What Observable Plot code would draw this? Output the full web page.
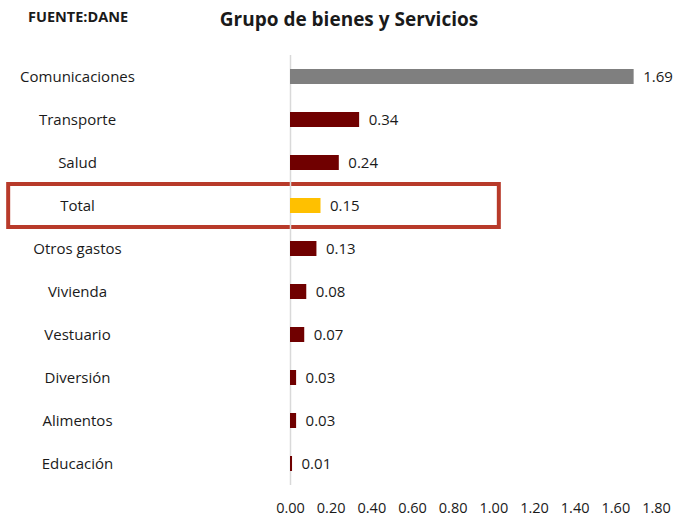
<!DOCTYPE html>
<html>
<head>
<meta charset="utf-8">
<script src="https://cdn.jsdelivr.net/npm/d3@7"></script>
<script src="https://cdn.jsdelivr.net/npm/@observablehq/plot@0.6"></script>
<style>
  body { margin: 0; background: #fff; }
  #wrap { position: relative; width: 677px; height: 517px; font-family: "Open Sans", sans-serif; }
  #src { position: absolute; left: 28px; top: 7px; font-size: 14.5px; font-weight: bold; color: #1a1a1a; }
  #title { position: absolute; left: 0; width: 698px; top: 6px; text-align: center; font-size: 19px; font-weight: bold; color: #1a1a1a; }
  #chart { position: absolute; left: 0; top: 0; }
</style>
</head>
<body>
<div id="wrap">
  <div id="chart"></div>
  <div id="src">FUENTE:DANE</div>
  <div id="title">Grupo de bienes y Servicios</div>
</div>
<script>
const categories = ["Comunicaciones", "Transporte", "Salud", "Total", "Otros gastos", "Vivienda", "Vestuario", "Diversión", "Alimentos", "Educación"];
const values = [1.69, 0.34, 0.24, 0.15, 0.13, 0.08, 0.07, 0.03, 0.03, 0.01];
const groups = ["com", "grp", "grp", "total", "grp", "grp", "grp", "grp", "grp", "grp"];
const xTicks = [0, 0.2, 0.4, 0.6, 0.8, 1.0, 1.2, 1.4, 1.6, 1.8];
const highlighted = ["Total"];

const data = categories.map((c, i) => ({category: c, value: values[i], group: groups[i]}));

const plot = Plot.plot({
  width: 677,
  height: 517,
  marginTop: 55,
  marginBottom: 32,
  marginLeft: 290,
  marginRight: 21,
  style: {fontFamily: "Open Sans, sans-serif", fontSize: "15px", color: "#1a1a1a", background: "transparent"},
  x: {domain: [0, 1.8], axis: null},
  y: {domain: categories, paddingInner: 0.65, paddingOuter: 0.325, axis: null},
  color: {domain: ["com", "grp", "total"], range: ["#7f7f7f", "#700000", "#ffc000"]},
  marks: [
    Plot.barX(highlighted, {
      y: d => d, x1: -1.386, x2: 1.027,
      insetTop: -14, insetBottom: -14, insetLeft: 0, insetRight: 0,
      fill: "none", stroke: "#b83a2a", strokeWidth: 4
    }),
    Plot.ruleX([0], {stroke: "#d9d9d9", strokeWidth: 1.5}),
    Plot.barX(data, {y: "category", x: "value", fill: "group"}),
    Plot.text(data, {y: "category", x: "value", text: d => d3.format(".2f")(d.value), textAnchor: "start", dx: 9, fontSize: 15}),
    Plot.axisY({tickSize: 0, textAnchor: "middle", dx: -204, fontSize: 15, label: null}),
    Plot.axisX({ticks: xTicks, tickFormat: d3.format(".2f"), tickSize: 0, tickPadding: 17, fontSize: 14.5, label: null})
  ]
});
document.getElementById("chart").appendChild(plot);
</script>
</body>
</html>
